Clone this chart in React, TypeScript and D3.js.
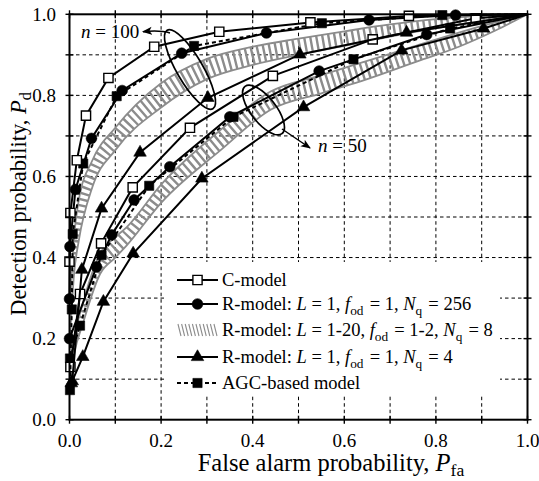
import React from 'react';
import * as d3 from 'd3';

// plot frame (pixels)
const W = 539, H = 481;
const X0 = 69.5, X1 = 527.5, Y0 = 419.7, Y1 = 14.3;
const GRAY = '#8c8c8c';
const FONT = '"Liberation Serif", "Times New Roman", serif';

// --- n = 100 ---
const cModel100 = [[0, 0.39], [0.002, 0.51], [0.016, 0.64], [0.036, 0.75], [0.085, 0.843], [0.185, 0.92], [0.327, 0.957], [0.526, 0.98], [0.741, 0.996], [1, 1]];
const rModel256_100 = [[0, 0.298], [0.001, 0.427], [0.013, 0.568], [0.048, 0.694], [0.115, 0.812], [0.245, 0.904], [0.43, 0.954], [0.654, 0.986], [0.843, 0.998], [1, 1]];
const rModel4_100 = [[0.006, 0.095], [0.027, 0.37], [0.07, 0.521], [0.154, 0.659], [0.302, 0.794], [0.503, 0.901], [0.736, 0.955], [1, 1]];
const agc100 = [[0.001, 0.073], [0.005, 0.272], [0.007, 0.458], [0.03, 0.632], [0.103, 0.798], [0.272, 0.922], [0.551, 0.978], [0.814, 0.998], [1, 1]];
// hatched band (L = 1-20), upper / lower edge
const bandX100 = [0.002, 0.01, 0.02, 0.05, 0.1, 0.2, 0.3, 0.4, 0.5, 0.6, 0.7, 0.8, 0.9, 1.0];
const bandUp100 = [0.3, 0.45, 0.54, 0.64, 0.72, 0.83, 0.89, 0.92, 0.94, 0.958, 0.975, 0.988, 0.996, 1.0];
const bandLo100 = [0.22, 0.36, 0.44, 0.574, 0.665, 0.77, 0.84, 0.875, 0.9, 0.922, 0.945, 0.966, 0.984, 1.0];

// --- n = 50 ---
const cModel50 = [[0.002, 0.13], [0.023, 0.31], [0.069, 0.435], [0.138, 0.573], [0.263, 0.72], [0.444, 0.848], [0.662, 0.938], [0.887, 0.99], [1, 1]];
const rModel256_50 = [[0, 0.2], [0.059, 0.377], [0.092, 0.456], [0.141, 0.542], [0.219, 0.624], [0.35, 0.747], [0.545, 0.86], [0.78, 0.95], [1, 1]];
const rModel4_50 = [[0.004, 0.09], [0.029, 0.155], [0.074, 0.291], [0.139, 0.41], [0.289, 0.595], [0.511, 0.771], [0.725, 0.911], [0.904, 0.965], [1, 1]];
const agc50 = [[0.001, 0.151], [0.023, 0.232], [0.07, 0.406], [0.174, 0.577], [0.358, 0.747], [0.62, 0.889], [0.831, 0.965], [1, 1]];
const bandX50 = [0.002, 0.01, 0.03, 0.067, 0.1, 0.125, 0.2, 0.33, 0.44, 0.55, 0.65, 0.75, 0.85, 0.93, 1.0];
const bandUp50 = [0.14, 0.2, 0.29, 0.41, 0.45, 0.475, 0.58, 0.715, 0.81, 0.85, 0.885, 0.92, 0.955, 0.98, 1.0];
const bandLo50 = [0.1, 0.16, 0.24, 0.36, 0.4, 0.43, 0.535, 0.665, 0.765, 0.805, 0.84, 0.88, 0.92, 0.96, 1.0];

const majorTicks = [0, 0.2, 0.4, 0.6, 0.8, 1.0];
const minorTicks = [0.1, 0.3, 0.5, 0.7, 0.9];
const gridTicks = [0.1, 0.2, 0.3, 0.4, 0.5, 0.6, 0.7, 0.8, 0.9];

const x = d3.scaleLinear().domain([0, 1]).range([X0, X1]);
const y = d3.scaleLinear().domain([0, 1]).range([Y0, Y1]);
const line = d3.line<number[]>().x(d => x(d[0])).y(d => y(d[1]));

const sym = {
  openSquare: d3.symbol().type(d3.symbolSquare).size(85)(),
  square: d3.symbol().type(d3.symbolSquare).size(85)(),
  circle: d3.symbol().type(d3.symbolCircle).size(90)(),
  triangle: d3.symbol().type(d3.symbolTriangle).size(68)(),
};

type Kind = keyof typeof sym;

function Marker({ kind, cx, cy }: { kind: Kind; cx: number; cy: number }) {
  const open = kind === 'openSquare';
  return (
    <path d={sym[kind] as string} transform={`translate(${cx},${cy})`}
      fill={open ? 'white' : 'black'} stroke="black" strokeWidth={open ? 1.4 : 0.6} />
  );
}

function Series({ data, kind, dashed }: { data: number[][]; kind: Kind; dashed?: boolean }) {
  return (
    <g>
      <path d={line(data as any) || ''} fill="none" stroke="black" strokeWidth={2}
        strokeDasharray={dashed ? '4 3' : undefined} />
      {data.filter(d => d[0] < 0.999).map((d, i) => (
        <Marker key={i} kind={kind} cx={x(d[0])} cy={y(d[1])} />
      ))}
    </g>
  );
}

function Band({ id, xs, up, lo }: { id: string; xs: number[]; up: number[]; lo: number[] }) {
  const pts = xs.map((v, i) => ({ x: v, u: up[i], l: lo[i] }));
  const area = d3.area<any>().x(d => x(d.x)).y0(d => y(d.l)).y1(d => y(d.u)).curve(d3.curveMonotoneX);
  const mid = d3.line<any>().x(d => x(d.x)).y(d => y((d.u + d.l) / 2)).curve(d3.curveMonotoneX);
  const eu = d3.line<any>().x(d => x(d.x)).y(d => y(d.u)).curve(d3.curveMonotoneX);
  const el = d3.line<any>().x(d => x(d.x)).y(d => y(d.l)).curve(d3.curveMonotoneX);
  return (
    <g>
      <clipPath id={id}><path d={area(pts) || ''} /></clipPath>
      <path d={mid(pts) || ''} clipPath={`url(#${id})`} fill="none" stroke={GRAY}
        strokeWidth={40} strokeDasharray="2.4 3.6" />
      <path d={eu(pts) || ''} fill="none" stroke={GRAY} strokeWidth={1.8} />
      <path d={el(pts) || ''} fill="none" stroke={GRAY} strokeWidth={1.8} />
    </g>
  );
}

const Sub = ({ t }: { t: string }) => (
  <>
    <tspan dy={5} fontSize="0.72em">{t}</tspan>
    <tspan dy={-5}>{'\u200A'}</tspan>
  </>
);

export default function App() {
  const legendY = [280, 304, 330, 357, 383];
  const lx0 = 177, lx1 = 218, ltx = 222;
  return (
    <svg width={W} height={H} style={{ position: 'absolute', left: 0, top: 0, background: 'white' }}
      fontFamily={FONT}>
      <defs>
        <marker id="arr" viewBox="0 0 10 10" refX="9" refY="5" markerWidth="10" markerHeight="10"
          markerUnits="userSpaceOnUse" orient="auto">
          <path d="M0,1 L10,5 L0,9 L2.5,5 Z" fill="black" />
        </marker>
      </defs>
      {/* grid */}
      <g stroke="black" strokeWidth={1} strokeDasharray="3.5 3">
        {gridTicks.map(t => <line key={'gx' + t} x1={x(t)} x2={x(t)} y1={Y0} y2={Y1} />)}
        {gridTicks.map(t => <line key={'gy' + t} x1={X0} x2={X1} y1={y(t)} y2={y(t)} />)}
      </g>
      {/* legend background */}
      <rect x={165} y={262} width={335} height={134} fill="white" />

      {/* bands */}
      <Band id="b100" xs={bandX100} up={bandUp100} lo={bandLo100} />
      <Band id="b50" xs={bandX50} up={bandUp50} lo={bandLo50} />

      {/* series */}
      <Series data={agc50} kind="square" dashed />
      <Series data={rModel4_50} kind="triangle" />
      <Series data={rModel256_50} kind="circle" />
      <Series data={cModel50} kind="openSquare" />
      <Series data={agc100} kind="square" dashed />
      <Series data={rModel4_100} kind="triangle" />
      <Series data={rModel256_100} kind="circle" />
      <Series data={cModel100} kind="openSquare" />

      {/* annotations */}
      <ellipse cx={190} cy={69.5} rx={45.5} ry={13} transform="rotate(59.8 190 69.5)"
        fill="none" stroke="black" strokeWidth={1.7} />
      <path d="M170,33 Q160,30 143,31.7" fill="none" stroke="black" strokeWidth={1.5} markerEnd="url(#arr)" />
      <text x={81} y={38} fontSize={19}><tspan fontStyle="italic">n</tspan> = 100</text>

      <ellipse cx={263.5} cy={110} rx={30} ry={12.5} transform="rotate(52 263.5 110)"
        fill="none" stroke="black" strokeWidth={1.7} />
      <path d="M282,129 L310,148" fill="none" stroke="black" strokeWidth={1.5} markerEnd="url(#arr)" />
      <text x={318} y={152} fontSize={19}><tspan fontStyle="italic">n</tspan> = 50</text>

      {/* frame */}
      <rect x={X0} y={Y1} width={X1 - X0} height={Y0 - Y1} fill="none" stroke="black" strokeWidth={2} />
      <g stroke="black" strokeWidth={1.4}>
        {[...majorTicks, ...minorTicks].map(t => (
          <g key={'t' + t}>
            <line x1={x(t)} x2={x(t)} y1={Y0 - 4} y2={Y0 + 4} />
            <line x1={x(t)} x2={x(t)} y1={Y1 - 4} y2={Y1 + 4} />
            <line x1={X0 - 4} x2={X0 + 4} y1={y(t)} y2={y(t)} />
            <line x1={X1 - 4} x2={X1 + 4} y1={y(t)} y2={y(t)} />
          </g>
        ))}
      </g>
      <g fontSize={19}>
        {majorTicks.map(t => (
          <text key={'xl' + t} x={x(t)} y={447} textAnchor="middle">{t.toFixed(1)}</text>
        ))}
        {majorTicks.map(t => (
          <text key={'yl' + t} x={56} y={y(t) + 6.5} textAnchor="end">{t.toFixed(1)}</text>
        ))}
      </g>
      <text x={332} y={471} fontSize={24.5} textAnchor="middle">
        False alarm probability, <tspan fontStyle="italic">P</tspan><Sub t="fa" />
      </text>
      <text transform="translate(26,203) rotate(-90)" fontSize={22.5} textAnchor="middle">
        Detection probability, <tspan fontStyle="italic">P</tspan><Sub t="d" />
      </text>

      {/* legend */}
      <g fontSize={18.5}>
        <line x1={lx0} x2={lx1} y1={legendY[0]} y2={legendY[0]} stroke="black" strokeWidth={2} />
        <Marker kind="openSquare" cx={(lx0 + lx1) / 2} cy={legendY[0]} />
        <text x={ltx} y={legendY[0] + 6}>C-model</text>

        <line x1={lx0} x2={lx1} y1={legendY[1]} y2={legendY[1]} stroke="black" strokeWidth={2} />
        <Marker kind="circle" cx={(lx0 + lx1) / 2} cy={legendY[1]} />
        <text x={ltx} y={legendY[1] + 6}>
          R-model: <tspan fontStyle="italic">L</tspan> = 1, <tspan fontStyle="italic">f</tspan><Sub t="od" /> = 1, <tspan fontStyle="italic">N</tspan><Sub t="q" /> = 256
        </text>

        <g stroke={GRAY} strokeWidth={1.1}>
          {d3.range(11).map(i => (
            <line key={i} x1={lx0 + 1 + i * 3.6} y1={legendY[2] - 6} x2={lx0 + 4 + i * 3.6} y2={legendY[2] + 6} />
          ))}
        </g>
        <text x={ltx} y={legendY[2] + 6}>
          R-model: <tspan fontStyle="italic">L</tspan> = 1-20, <tspan fontStyle="italic">f</tspan><Sub t="od" /> = 1-2, <tspan fontStyle="italic">N</tspan><Sub t="q" /> = 8
        </text>

        <line x1={lx0} x2={lx1} y1={legendY[3]} y2={legendY[3]} stroke="black" strokeWidth={2} />
        <Marker kind="triangle" cx={(lx0 + lx1) / 2} cy={legendY[3]} />
        <text x={ltx} y={legendY[3] + 6}>
          R-model: <tspan fontStyle="italic">L</tspan> = 1, <tspan fontStyle="italic">f</tspan><Sub t="od" /> = 1, <tspan fontStyle="italic">N</tspan><Sub t="q" /> = 4
        </text>

        <line x1={lx0} x2={lx1} y1={legendY[4]} y2={legendY[4]} stroke="black" strokeWidth={2} strokeDasharray="4 3" />
        <Marker kind="square" cx={(lx0 + lx1) / 2} cy={legendY[4]} />
        <text x={ltx} y={legendY[4] + 6}>AGC-based model</text>
      </g>
    </svg>
  );
}
